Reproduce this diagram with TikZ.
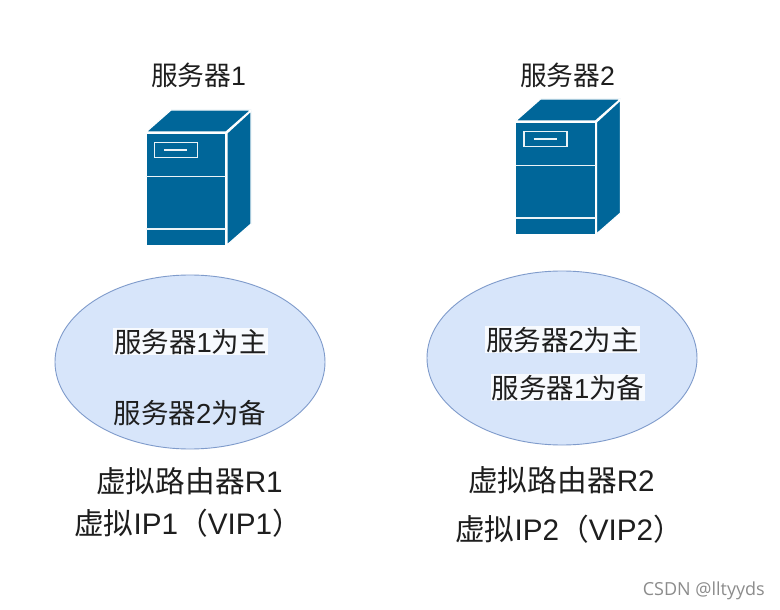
\documentclass[tikz,border=0pt]{standalone}
\usetikzlibrary{shapes.geometric}
\usepackage{fontspec}
\setmainfont{Liberation Sans}
\newfontfamily\cjk{Noto Sans CJK SC}
\newfontfamily\wm{Open Sans}
\newcommand{\C}[1]{{\cjk #1}}
\definecolor{srv}{HTML}{006699}
\definecolor{ellfill}{HTML}{D7E5FA}
\definecolor{ellline}{HTML}{7F9BCB}
\definecolor{lbl}{HTML}{F7FAFE}
\definecolor{txt}{HTML}{1E1E1E}
\tikzset{
  x=1pt,y=-1pt,
  srvface/.style={fill=srv,draw=white,line width=1.2pt,line join=round},
  srvline/.style={draw=white!92!srv,line width=1.7pt},
  vip/.style={ellipse,draw=ellline,fill=ellfill,line width=0.9pt,minimum width=270pt,minimum height=174pt,inner sep=0pt},
  lab/.style={font=\fontsize{27.5}{30}\selectfont,text=txt,inner sep=0pt,anchor=base},
  titlelab/.style={lab,font=\fontsize{26.7}{30}\selectfont},
  biglab/.style={lab,font=\fontsize{29.7}{32}\selectfont},
  hilite/.style={lab,fill=lbl,inner sep=1pt},
  pics/serverbox/.style={code={
    \path[srvface] (146,132) -- (171,110) -- (251,110) -- (226,132) -- cycle;
    \path[srvface] (227,133) -- (251,111) -- (251,224) -- (227,245) -- cycle;
    \path[srvface] (146,133) rectangle (226,246);
    \draw[srvline] (146,176.5) -- (226,176.5);
    \draw[srvline] (146,229) -- (226,229);
    \draw[srvline] (154.5,142.5) rectangle (197.5,157.5);
    \draw[srvline] (164,150) -- (187,150);
  }}
}
\begin{document}
\begin{tikzpicture}
\useasboundingbox[fill=white] (0,0) rectangle (780,610);
\pic at (0,0) {serverbox};
\pic at (369.5,-11) {serverbox};

\node[vip] (e1) at (190,362) {};
\node[vip] (e2) at (562,358) {};

\node[titlelab] (s1) at (198.5,86) {\C{服务器}1};
\node[titlelab] (s2) at (567.5,85) {\C{服务器}2};

\node[hilite] (a1) at (190.5,352) {\C{服务器}1\C{为主}};
\node[lab]    (a2) at (190,423) {\C{服务器}2\C{为备}};
\node[hilite] (b1) at (562.5,350) {\C{服务器}2\C{为主}};
\node[hilite] (b2) at (568,398) {\C{服务器}1\C{为备}};

\node[biglab] (r1) at (189.5,492) {\C{虚拟路由器}R1};
\node[biglab] (i1) at (188,534) {\C{虚拟}IP1\C{（}VIP1\C{）}};
\node[biglab] (r2) at (561.5,491) {\C{虚拟路由器}R2};
\node[biglab] (i2) at (569,540) {\C{虚拟}IP2\C{（}VIP2\C{）}};

\node[font=\wm\fontsize{18}{20}\selectfont,text=black!45,inner sep=0pt,anchor=base east] (w) at (765,595) {CSDN @lltyyds};
\end{tikzpicture}
\end{document}
